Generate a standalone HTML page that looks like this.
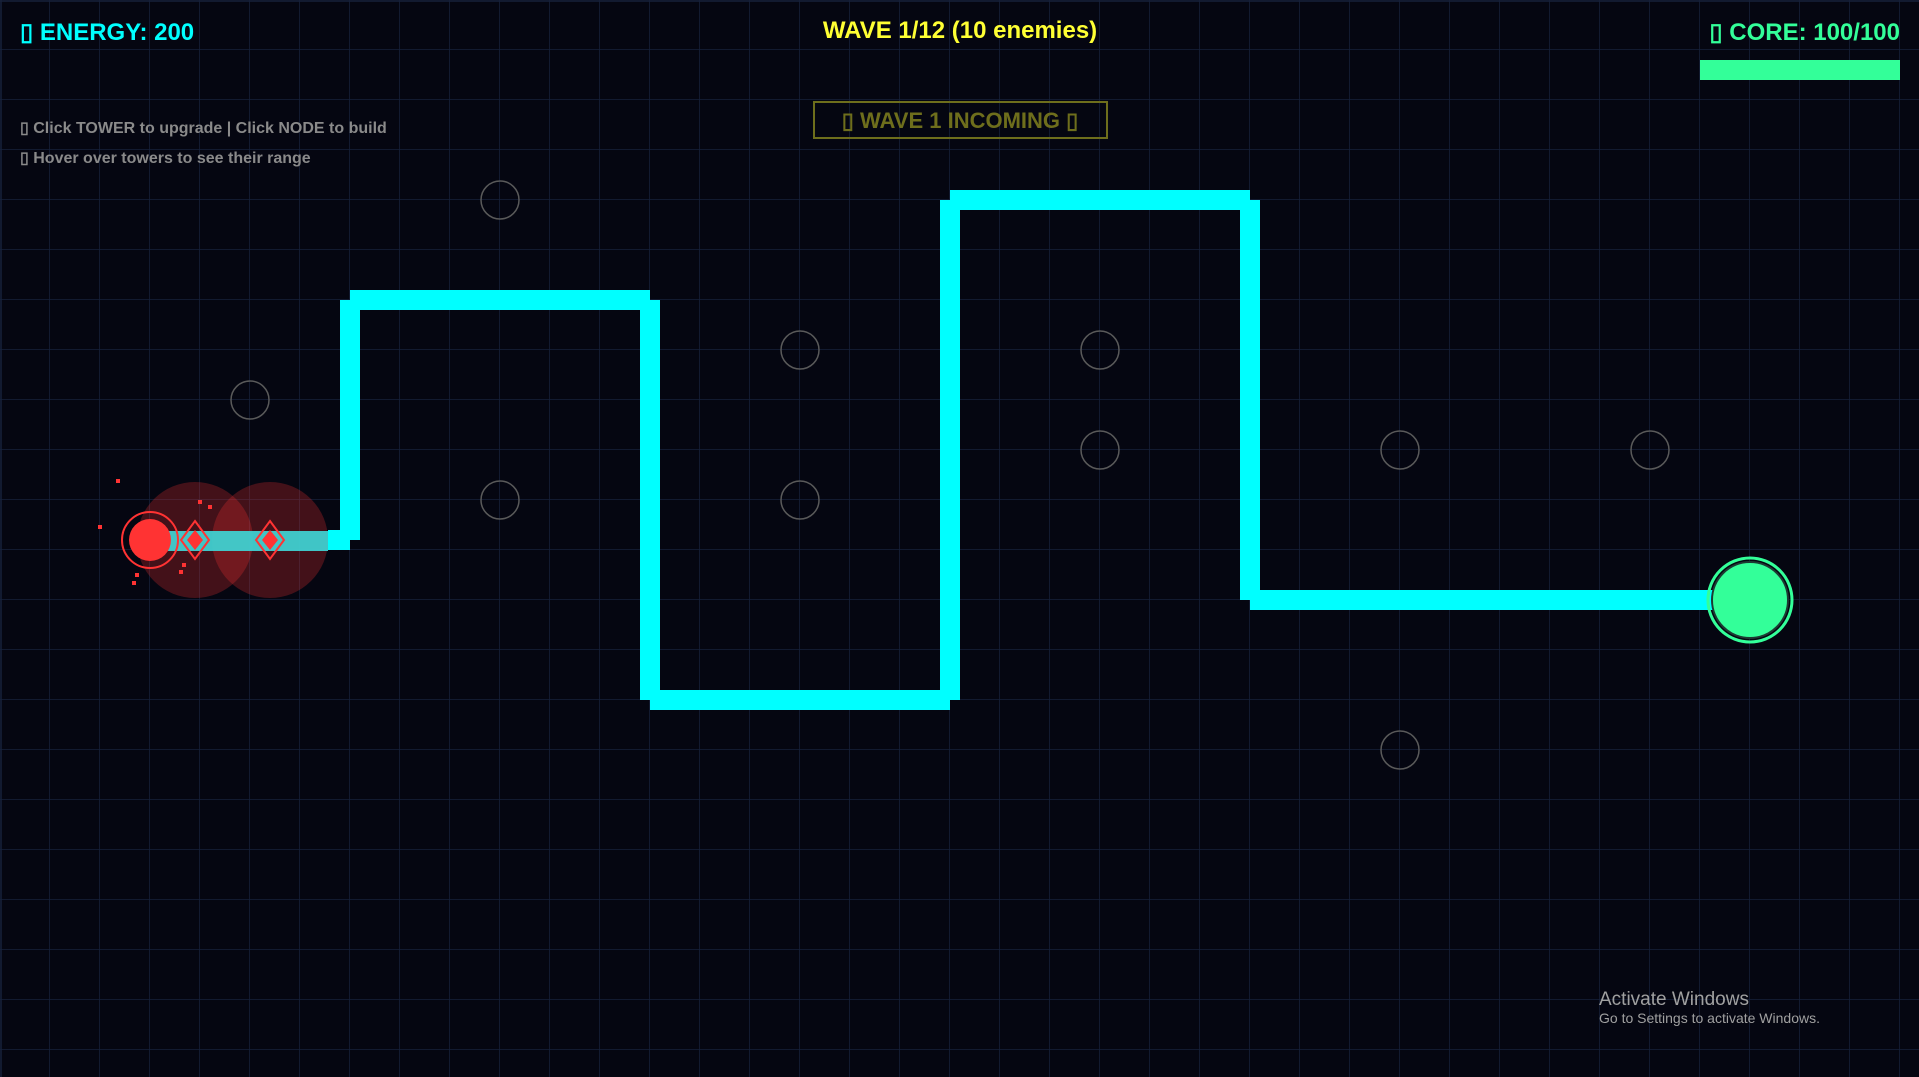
<!DOCTYPE html>
<html><head><meta charset="utf-8"><style>
html,body{margin:0;padding:0;background:#050611;width:1919px;height:1077px;overflow:hidden}
svg{display:block}
text{font-family:"Liberation Sans",sans-serif;font-weight:bold}
</style></head><body>
<svg width="1919" height="1077" viewBox="0 0 1919 1077" xmlns="http://www.w3.org/2000/svg">
<defs>
<pattern id="g" width="50" height="50" patternUnits="userSpaceOnUse">
<path d="M50 0V50M0 50H50" stroke="#16213a" stroke-width="1.5" fill="none"/>
</pattern>
</defs>
<rect width="1919" height="1077" fill="#050611"/>
<rect width="1919" height="1077" fill="url(#g)"/>
<path d="M0 1H1919M1 0V1077" stroke="#16213a" stroke-width="1.5"/>

<!-- path -->
<g stroke="#00ffff" stroke-width="20" fill="none" stroke-linecap="butt">
<line x1="328" y1="540" x2="350" y2="540"/>
<line x1="350" y1="540" x2="350" y2="300"/>
<line x1="350" y1="300" x2="650" y2="300"/>
<line x1="650" y1="300" x2="650" y2="700"/>
<line x1="650" y1="700" x2="950" y2="700"/>
<line x1="950" y1="700" x2="950" y2="200"/>
<line x1="950" y1="200" x2="1250" y2="200"/>
<line x1="1250" y1="200" x2="1250" y2="600"/>
<line x1="1250" y1="600" x2="1720" y2="600"/>
</g>

<!-- nodes -->
<g fill="none" stroke="#5a5a5a" stroke-width="1.5">
<circle cx="500" cy="200" r="19"/>
<circle cx="250" cy="400" r="19"/>
<circle cx="500" cy="500" r="19"/>
<circle cx="800" cy="350" r="19"/>
<circle cx="800" cy="500" r="19"/>
<circle cx="1100" cy="350" r="19"/>
<circle cx="1100" cy="450" r="19"/>
<circle cx="1400" cy="450" r="19"/>
<circle cx="1650" cy="450" r="19"/>
<circle cx="1400" cy="750" r="19"/>
</g>

<!-- core -->
<circle cx="1750" cy="600" r="42" fill="none" stroke="#33ff99" stroke-width="3"/>
<circle cx="1750" cy="600" r="38" fill="#33ff99" stroke="#1d3a33" stroke-width="2"/>

<!-- enemies -->
<circle cx="195" cy="540" r="58" fill="#ff3333" fill-opacity="0.25"/>
<circle cx="270" cy="540" r="58" fill="#ff3333" fill-opacity="0.25"/>
<rect x="168" y="531" width="160" height="20" fill="#40d0d0" opacity="0.95"/>
<circle cx="150" cy="540" r="28" fill="none" stroke="#ff3333" stroke-width="2"/>
<circle cx="150" cy="540" r="21" fill="#ff3333"/>
<g fill="none" stroke="#ff3333" stroke-width="2">
<polygon points="195,521 209,540 195,559 181,540"/>
<polygon points="270,521 284,540 270,559 256,540"/>
</g>
<g fill="#ff3333">
<polygon points="195,530 203,540 195,550 187,540"/>
<polygon points="270,530 278,540 270,550 262,540"/>
<rect x="116" y="479" width="4" height="4"/>
<rect x="98" y="525" width="4" height="4"/>
<rect x="198" y="500" width="4" height="4"/>
<rect x="208" y="505" width="4" height="4"/>
<rect x="182" y="563" width="4" height="4"/>
<rect x="179" y="570" width="4" height="4"/>
<rect x="135" y="573" width="4" height="4"/>
<rect x="132" y="581" width="4" height="4"/>
</g>

<!-- HUD -->
<text x="20" y="40" font-size="24" fill="#00ffff">▯ ENERGY: 200</text>
<text x="960" y="38" font-size="24" fill="#ffff33" text-anchor="middle">WAVE 1/12 (10 enemies)</text>
<text x="1900" y="40" font-size="24" fill="#33ff99" text-anchor="end">▯ CORE: 100/100</text>
<rect x="1700" y="60" width="200" height="20" fill="#33ff99"/>
<text x="20" y="133" font-size="16" fill="#8a8a8a">▯ Click TOWER to upgrade | Click NODE to build</text>
<text x="20" y="163" font-size="16" fill="#8a8a8a">▯ Hover over towers to see their range</text>
<rect x="814" y="102" width="293" height="36" fill="none" stroke="#6e6e1c" stroke-width="2"/>
<text x="960" y="128" font-size="22" fill="#6e6e1c" text-anchor="middle">▯ WAVE 1 INCOMING ▯</text>

<text x="1599" y="1005" font-size="19" fill="#a0a0a0" style="font-weight:normal">Activate Windows</text>
<text x="1599" y="1023" font-size="14" fill="#a0a0a0" style="font-weight:normal">Go to Settings to activate Windows.</text>
</svg>
</body></html>
